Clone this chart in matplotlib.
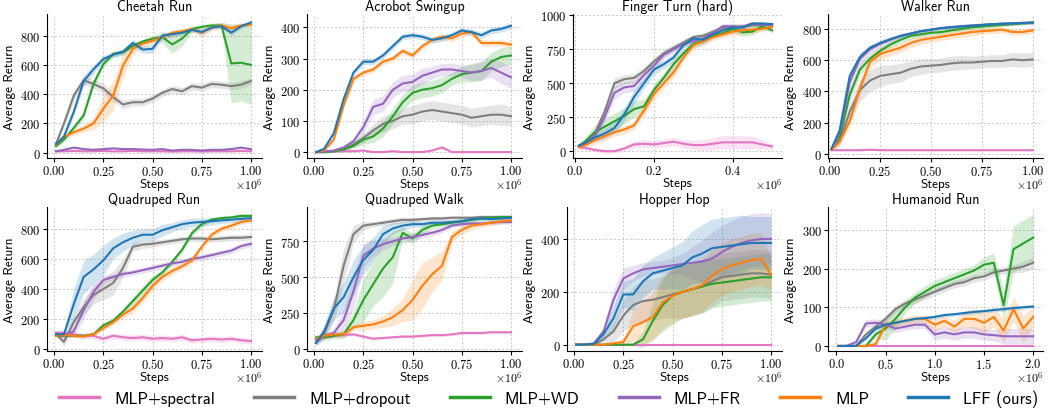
import numpy as np
import matplotlib.pyplot as plt
from matplotlib.ticker import FuncFormatter
from matplotlib.lines import Line2D

plt.rcParams['mathtext.fontset'] = 'cm'
plt.rcParams['font.family'] = ['cmss10', 'DejaVu Sans']
plt.rcParams['axes.unicode_minus'] = False

methods = ['MLP+spectral', 'MLP+dropout', 'MLP+WD', 'MLP+FR', 'MLP', 'LFF (ours)']
colors = ['#e377c2', '#7f7f7f', '#2ca02c', '#9467bd', '#ff7f0e', '#1f77b4']

# x grids (in units of 1e6 steps)
steps_1m = [0.01, 0.05, 0.10, 0.15, 0.20, 0.25, 0.30, 0.35, 0.40, 0.45, 0.50,
            0.55, 0.60, 0.65, 0.70, 0.75, 0.80, 0.85, 0.90, 0.95, 1.00]
steps_half = [0.01, 0.025, 0.05, 0.075, 0.10, 0.125, 0.15, 0.175, 0.20, 0.225, 0.25,
              0.275, 0.30, 0.325, 0.35, 0.375, 0.40, 0.425, 0.45, 0.475, 0.50]
steps_2m = [0.02, 0.1, 0.2, 0.3, 0.4, 0.5, 0.6, 0.7, 0.8, 0.9, 1.0,
            1.1, 1.2, 1.3, 1.4, 1.5, 1.6, 1.7, 1.8, 1.9, 2.0]

# order of rows: spectral, dropout, WD, FR, MLP, LFF
cheetah_mean = [
    [10, 10, 12, 10, 10, 12, 10, 10, 12, 10, 10, 10, 8, 10, 10, 8, 10, 10, 10, 12, 10],
    [60, 200, 390, 495, 470, 440, 380, 330, 345, 345, 370, 410, 435, 420, 455, 445, 470, 465, 455, 465, 490],
    [45, 90, 170, 255, 470, 605, 675, 686, 730, 760, 780, 790, 740, 780, 845, 860, 870, 870, 610, 615, 600],
    [10, 20, 35, 25, 20, 25, 30, 25, 25, 22, 20, 25, 15, 20, 20, 15, 20, 20, 25, 35, 25],
    [55, 110, 140, 165, 200, 300, 390, 595, 710, 745, 765, 790, 820, 830, 845, 820, 855, 870, 850, 870, 875],
    [60, 110, 280, 490, 570, 640, 670, 690, 750, 705, 710, 800, 810, 820, 840, 825, 855, 865, 820, 865, 890],
]
cheetah_band = [
    [5, 5, 5, 5, 5, 5, 5, 5, 5, 5, 5, 5, 5, 5, 5, 5, 5, 5, 5, 5, 5],
    [10, 30, 40, 30, 30, 35, 30, 30, 25, 25, 25, 25, 25, 25, 25, 25, 25, 25, 25, 25, 25],
    [10, 15, 20, 30, 30, 25, 20, 20, 15, 15, 20, 40, 60, 50, 20, 15, 15, 20, 270, 260, 270],
    [5, 5, 8, 5, 5, 5, 5, 5, 5, 5, 5, 5, 5, 5, 5, 5, 5, 5, 5, 8, 5],
    [10, 15, 20, 25, 40, 90, 100, 80, 40, 25, 20, 20, 20, 20, 20, 25, 20, 20, 25, 20, 15],
    [10, 15, 30, 40, 30, 25, 20, 20, 25, 25, 30, 20, 20, 15, 15, 20, 15, 15, 20, 15, 15],
]

acrobot_mean = [
    [0, 0, 2, 3, 3, 5, 0, 0, 3, 0, 0, 0, 5, 15, 0, 0, 0, 0, 0, 0, 0],
    [0, 0, 2, 10, 25, 45, 70, 90, 100, 115, 120, 130, 135, 130, 125, 120, 110, 115, 120, 120, 115],
    [0, 0, 3, 8, 20, 40, 50, 75, 115, 160, 190, 200, 205, 215, 235, 250, 255, 260, 290, 305, 310],
    [0, 2, 5, 15, 35, 80, 145, 155, 200, 220, 225, 245, 255, 265, 265, 260, 255, 260, 270, 255, 240],
    [0, 5, 40, 150, 235, 255, 265, 290, 300, 325, 310, 340, 360, 370, 365, 380, 385, 350, 350, 350, 345],
    [0, 10, 60, 170, 255, 290, 290, 310, 340, 370, 375, 370, 360, 365, 375, 390, 385, 375, 390, 395, 405],
]
acrobot_band = [
    [2, 2, 2, 3, 3, 3, 2, 2, 3, 2, 2, 2, 3, 5, 2, 2, 2, 2, 2, 2, 2],
    [2, 3, 5, 8, 10, 15, 20, 25, 25, 25, 30, 30, 30, 30, 30, 30, 30, 30, 30, 35, 30],
    [2, 2, 3, 5, 8, 15, 20, 25, 25, 25, 25, 25, 25, 25, 20, 25, 30, 30, 30, 30, 30],
    [2, 2, 3, 5, 10, 20, 25, 25, 25, 25, 25, 25, 20, 20, 20, 20, 25, 30, 30, 35, 35],
    [2, 3, 5, 10, 10, 10, 10, 10, 10, 10, 10, 10, 10, 10, 10, 10, 10, 10, 10, 10, 10],
    [2, 3, 5, 10, 10, 10, 10, 10, 10, 10, 10, 10, 10, 10, 10, 10, 10, 10, 10, 10, 10],
]

finger_mean = [
    [30, 25, 10, 0, 0, 20, 50, 55, 50, 60, 70, 55, 45, 45, 55, 65, 65, 65, 65, 50, 35],
    [40, 60, 130, 290, 500, 530, 540, 590, 660, 720, 760, 800, 840, 850, 880, 910, 910, 920, 925, 930, 935],
    [40, 70, 140, 180, 220, 260, 310, 330, 450, 540, 640, 720, 790, 810, 850, 870, 900, 875, 880, 920, 890],
    [40, 60, 110, 250, 430, 470, 480, 560, 630, 710, 750, 790, 810, 830, 870, 920, 920, 915, 940, 930, 930],
    [30, 45, 80, 110, 140, 160, 190, 300, 420, 500, 580, 690, 780, 810, 840, 860, 880, 890, 895, 900, 915],
    [40, 60, 100, 130, 170, 270, 400, 500, 600, 640, 690, 780, 830, 820, 860, 890, 910, 910, 940, 940, 935],
]
finger_band = [
    [15, 15, 15, 15, 15, 20, 25, 30, 25, 30, 30, 30, 35, 40, 45, 50, 50, 50, 45, 35, 20],
    [15, 20, 30, 40, 40, 30, 30, 30, 30, 30, 25, 25, 20, 20, 20, 20, 20, 20, 15, 15, 15],
    [15, 30, 50, 60, 60, 60, 60, 50, 40, 40, 40, 30, 30, 25, 20, 20, 30, 30, 25, 20, 20],
    [15, 20, 30, 40, 50, 40, 40, 40, 30, 30, 25, 25, 20, 20, 20, 20, 20, 20, 15, 15, 15],
    [15, 20, 30, 30, 30, 30, 30, 40, 40, 40, 40, 30, 30, 30, 25, 25, 25, 25, 25, 20, 20],
    [15, 20, 30, 40, 40, 50, 50, 40, 40, 30, 30, 25, 25, 25, 20, 20, 20, 15, 15, 15, 15],
]

walker_mean = [
    [25, 25, 25, 25, 28, 25, 25, 25, 25, 25, 25, 25, 25, 25, 25, 25, 25, 25, 25, 25, 25],
    [30, 80, 270, 410, 470, 500, 510, 520, 545, 560, 565, 570, 580, 585, 585, 590, 595, 595, 605, 600, 605],
    [30, 100, 380, 540, 610, 660, 700, 730, 755, 765, 775, 780, 790, 800, 810, 815, 820, 825, 830, 835, 840],
    [30, 130, 460, 610, 670, 705, 730, 755, 770, 785, 795, 805, 812, 818, 822, 826, 830, 833, 835, 838, 840],
    [30, 80, 210, 420, 590, 640, 660, 680, 710, 730, 740, 750, 760, 770, 780, 785, 790, 795, 780, 780, 790],
    [35, 150, 500, 620, 680, 710, 735, 755, 770, 785, 795, 805, 810, 815, 820, 825, 830, 833, 835, 838, 840],
]
walker_band = [
    [5, 5, 5, 5, 5, 5, 5, 5, 5, 5, 5, 5, 5, 5, 5, 5, 5, 5, 5, 5, 5],
    [10, 30, 60, 70, 70, 70, 60, 60, 50, 50, 45, 45, 45, 45, 40, 40, 40, 40, 45, 45, 45],
    [10, 20, 40, 40, 30, 25, 20, 20, 20, 15, 15, 15, 15, 15, 15, 15, 15, 10, 10, 10, 10],
    [10, 20, 40, 40, 30, 25, 20, 15, 15, 15, 10, 10, 10, 10, 10, 10, 10, 10, 10, 10, 10],
    [10, 20, 40, 50, 40, 40, 30, 30, 30, 30, 25, 25, 25, 25, 25, 20, 20, 20, 20, 20, 20],
    [10, 15, 25, 20, 15, 10, 10, 10, 10, 10, 10, 10, 10, 10, 10, 10, 10, 10, 10, 10, 10],
]

qrun_mean = [
    [110, 110, 100, 90, 90, 70, 90, 80, 75, 80, 70, 75, 70, 80, 60, 65, 70, 65, 70, 60, 55],
    [100, 50, 180, 280, 360, 400, 440, 540, 680, 695, 700, 710, 720, 730, 735, 735, 730, 735, 740, 740, 745],
    [90, 90, 90, 90, 100, 160, 190, 250, 320, 390, 460, 510, 580, 660, 770, 830, 860, 870, 875, 885, 885],
    [100, 90, 120, 260, 380, 460, 480, 500, 510, 525, 540, 555, 570, 580, 600, 610, 625, 640, 655, 685, 700],
    [90, 95, 90, 85, 100, 140, 180, 230, 270, 340, 420, 480, 520, 550, 590, 680, 760, 800, 820, 845, 855],
    [100, 100, 300, 480, 530, 590, 670, 710, 740, 760, 760, 790, 810, 830, 840, 845, 850, 855, 860, 865, 870],
]
qrun_band = [
    [15, 15, 20, 20, 20, 20, 20, 20, 20, 20, 20, 20, 20, 20, 20, 20, 20, 20, 20, 20, 20],
    [15, 30, 40, 50, 60, 70, 80, 60, 30, 25, 25, 20, 20, 20, 20, 20, 20, 20, 20, 20, 20],
    [10, 10, 10, 10, 10, 15, 20, 20, 30, 30, 30, 20, 20, 20, 20, 20, 15, 15, 15, 15, 15],
    [10, 15, 30, 60, 50, 30, 20, 20, 20, 20, 20, 20, 20, 20, 20, 20, 20, 20, 20, 20, 20],
    [10, 10, 10, 10, 10, 15, 20, 25, 30, 30, 30, 25, 25, 20, 20, 20, 20, 20, 20, 15, 15],
    [10, 15, 100, 110, 100, 100, 70, 60, 50, 40, 40, 40, 30, 30, 30, 25, 25, 20, 20, 20, 20],
]

qwalk_mean = [
    [60, 80, 90, 95, 100, 85, 70, 75, 80, 85, 85, 90, 95, 95, 100, 110, 110, 110, 115, 115, 115],
    [40, 100, 270, 580, 800, 860, 870, 880, 890, 900, 900, 905, 910, 910, 915, 915, 915, 920, 920, 920, 920],
    [80, 80, 90, 100, 200, 340, 450, 560, 640, 810, 770, 830, 860, 870, 880, 890, 900, 910, 915, 920, 920],
    [60, 90, 110, 200, 400, 650, 700, 730, 750, 770, 780, 795, 810, 830, 860, 870, 875, 875, 880, 885, 885],
    [70, 90, 100, 100, 150, 160, 170, 190, 220, 270, 340, 440, 520, 580, 780, 830, 860, 870, 880, 890, 895],
    [40, 120, 280, 360, 500, 620, 690, 800, 840, 860, 870, 870, 880, 880, 885, 890, 905, 910, 905, 910, 915],
]
qwalk_band = [
    [10, 10, 10, 10, 10, 10, 10, 10, 10, 10, 10, 10, 10, 10, 10, 10, 10, 10, 10, 10, 10],
    [20, 40, 80, 120, 60, 30, 20, 20, 20, 20, 15, 15, 15, 15, 15, 15, 15, 15, 15, 15, 15],
    [20, 20, 20, 30, 60, 150, 150, 200, 180, 40, 40, 30, 25, 20, 20, 20, 15, 15, 15, 15, 15],
    [20, 20, 30, 80, 120, 80, 60, 40, 30, 30, 25, 25, 20, 20, 15, 15, 15, 15, 15, 15, 15],
    [20, 20, 20, 20, 20, 30, 30, 40, 60, 80, 140, 160, 120, 100, 40, 30, 30, 20, 20, 15, 15],
    [20, 40, 80, 100, 120, 100, 90, 60, 40, 30, 25, 20, 20, 20, 15, 15, 15, 15, 15, 15, 15],
]

hopper_mean = [
    [0, 0, 0, 0, 0, 0, 0, 0, 0, 0, 0, 0, 0, 0, 0, 0, 0, 0, 0, 0, 0],
    [0, 0, 0, 20, 50, 110, 150, 165, 170, 180, 190, 200, 210, 220, 240, 255, 260, 265, 270, 270, 265],
    [0, 0, 0, 0, 0, 0, 0, 20, 90, 150, 185, 200, 210, 220, 230, 235, 240, 245, 250, 255, 255],
    [0, 0, 5, 50, 170, 250, 270, 285, 290, 295, 300, 305, 310, 315, 325, 350, 370, 385, 395, 400, 400],
    [0, 0, 0, 0, 5, 10, 70, 85, 105, 160, 185, 200, 210, 225, 260, 285, 300, 310, 320, 325, 265],
    [0, 0, 3, 40, 100, 190, 190, 240, 270, 280, 290, 300, 330, 345, 365, 370, 375, 380, 385, 385, 385],
]
hopper_band = [
    [1, 1, 1, 1, 1, 1, 1, 1, 1, 1, 1, 1, 1, 1, 1, 1, 1, 1, 1, 1, 1],
    [0, 0, 2, 15, 40, 60, 70, 80, 80, 80, 90, 100, 100, 100, 100, 90, 90, 90, 90, 90, 90],
    [0, 0, 0, 0, 0, 0, 5, 30, 70, 100, 110, 100, 100, 100, 90, 90, 90, 90, 90, 90, 90],
    [0, 0, 2, 20, 40, 40, 30, 25, 25, 25, 30, 40, 60, 80, 100, 100, 100, 100, 100, 100, 95],
    [0, 0, 0, 0, 5, 10, 60, 80, 90, 100, 100, 100, 100, 100, 100, 100, 100, 100, 100, 100, 60],
    [0, 0, 2, 20, 40, 50, 60, 60, 60, 70, 80, 90, 100, 110, 110, 110, 110, 110, 100, 100, 100],
]

humanoid_mean = [
    [0, 0, 0, 0, 0, 0, 0, 0, 0, 0, 0, 0, 0, 0, 0, 0, 0, 0, 0, 0, 0],
    [0, 0, 0, 30, 50, 70, 95, 110, 120, 130, 140, 150, 160, 165, 175, 180, 190, 195, 200, 205, 215],
    [0, 0, 0, 0, 30, 45, 70, 100, 125, 140, 155, 165, 175, 185, 195, 210, 215, 105, 250, 265, 280],
    [0, 0, 10, 58, 60, 55, 45, 50, 55, 55, 30, 35, 30, 35, 35, 30, 28, 25, 25, 25, 25],
    [0, 0, 0, 0, 5, 55, 60, 65, 70, 70, 55, 65, 50, 70, 70, 60, 75, 40, 95, 45, 75],
    [0, 0, 0, 20, 45, 55, 60, 65, 70, 72, 75, 80, 82, 85, 88, 90, 93, 95, 98, 100, 102],
]
humanoid_band = [
    [1, 1, 1, 1, 1, 1, 1, 1, 1, 1, 1, 1, 1, 1, 1, 1, 1, 1, 1, 1, 1],
    [0, 0, 0, 5, 10, 10, 10, 10, 10, 10, 10, 10, 10, 10, 10, 10, 10, 10, 10, 15, 15],
    [0, 0, 0, 5, 10, 30, 25, 15, 15, 15, 15, 15, 15, 15, 15, 20, 25, 40, 60, 60, 60],
    [0, 0, 5, 10, 10, 10, 10, 10, 10, 10, 15, 15, 15, 15, 15, 15, 15, 20, 20, 20, 20],
    [0, 0, 0, 0, 5, 10, 10, 10, 10, 10, 15, 15, 15, 20, 25, 25, 25, 30, 30, 35, 25],
    [0, 0, 0, 5, 5, 5, 5, 5, 5, 5, 5, 5, 5, 5, 5, 5, 5, 5, 5, 5, 5],
]

titles = ['Cheetah Run', 'Acrobot Swingup', 'Finger Turn (hard)', 'Walker Run',
          'Quadruped Run', 'Quadruped Walk', 'Hopper Hop', 'Humanoid Run']
xs = [steps_1m, steps_1m, steps_half, steps_1m, steps_1m, steps_1m, steps_1m, steps_2m]
means = [cheetah_mean, acrobot_mean, finger_mean, walker_mean,
         qrun_mean, qwalk_mean, hopper_mean, humanoid_mean]
bands = [cheetah_band, acrobot_band, finger_band, walker_band,
         qrun_band, qwalk_band, hopper_band, humanoid_band]

xlims = [(-0.036, 1.056), (-0.036, 1.056), (-0.005, 0.525), (-0.007, 1.05),
         (-0.036, 1.056), (-0.036, 1.056), (-0.036, 1.056), (-0.085, 2.1)]
ylims = [(-36, 948), (-19, 443), (-50, 1010), (-25, 895),
         (-11, 944), (-16, 990), (-24, 521), (-13, 359)]
xtick_sets = [[0, 0.25, 0.5, 0.75, 1.0]] * 2 + [[0, 0.2, 0.4]] + [[0, 0.25, 0.5, 0.75, 1.0]] * 4 \
    + [[0, 0.5, 1.0, 1.5, 2.0]]
xdec = [2, 2, 1, 2, 2, 2, 2, 1]
ytick_sets = [[0, 200, 400, 600, 800], [0, 100, 200, 300, 400], [0, 250, 500, 750, 1000],
              [0, 200, 400, 600, 800], [0, 200, 400, 600, 800], [0, 250, 500, 750],
              [0, 200, 400], [0, 100, 200, 300]]

# axes pixel boxes (left, right) per row, figure 1053x414
W, H = 1053, 414
row_boxes = [[(47, 262), (307, 522), (573, 782), (828, 1043)],
             [(47, 262), (307, 522), (567, 782), (828, 1043)]]
row_tb = [(15, 159), (208, 352)]

fig = plt.figure(figsize=(W / 100, H / 100), dpi=100)

for i in range(8):
    r, c = divmod(i, 4)
    l, rr = row_boxes[r][c]
    t, b = row_tb[r]
    ax = fig.add_axes([l / W, 1 - b / H, (rr - l) / W, (b - t) / H])
    x = np.array(xs[i]) * 1e6
    for k in range(6):
        m = np.array(means[i][k], dtype=float)
        s = np.array(bands[i][k], dtype=float)
        ax.fill_between(x, m - s, m + s, color=colors[k], alpha=0.2, linewidth=0)
        ax.plot(x, m, color=colors[k], linewidth=1.5)
    ax.set_xlim(xlims[i][0] * 1e6, xlims[i][1] * 1e6)
    ax.set_ylim(*ylims[i])
    ax.set_xticks(np.array(xtick_sets[i]) * 1e6)
    ax.set_yticks(ytick_sets[i])
    d = xdec[i]
    ax.xaxis.set_major_formatter(FuncFormatter(lambda v, p, d=d: '$%.*f$' % (d, v / 1e6)))
    ax.yaxis.set_major_formatter(FuncFormatter(lambda v, p: '$%d$' % round(v)))
    ax.tick_params(labelsize=9, length=3, pad=1.5)
    ax.grid(True, linestyle=(0, (2, 2)), color='#c8c8c8', linewidth=0.7)
    ax.set_axisbelow(True)
    for sp in ['top', 'right']:
        ax.spines[sp].set_visible(False)
    ax.set_title(titles[i], fontsize=10, pad=3)
    ax.set_xlabel('Steps', fontsize=9.5, labelpad=0)
    ax.set_ylabel('Average Return', fontsize=9.5, labelpad=3)
    ax.text(1.0, -0.18, r'$\times10^{6}$', transform=ax.transAxes, ha='right', va='center', fontsize=8.5)

handles = [Line2D([0], [0], color=colors[k], linewidth=2.5) for k in range(6)]
fig.legend(handles, methods, loc='center', bbox_to_anchor=(0.521, 0.035), ncol=6, frameon=False,
           fontsize=12, handlelength=2.4, columnspacing=2.35, handletextpad=0.9)

fig.savefig('out.png', dpi=100)
